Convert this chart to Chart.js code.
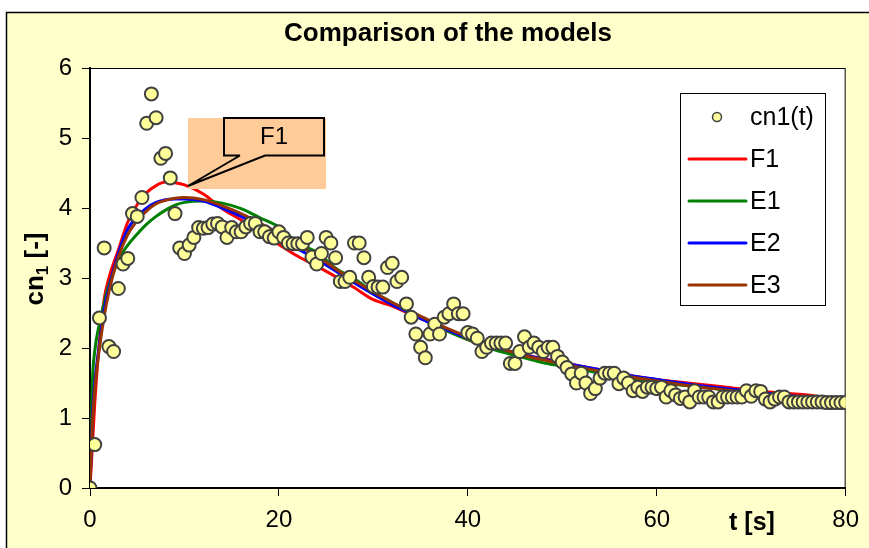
<!DOCTYPE html>
<html>
<head>
<meta charset="utf-8">
<script src="https://cdn.jsdelivr.net/npm/chart.js@4.4.0/dist/chart.umd.min.js"></script>
<style>
html, body { margin: 0; padding: 0; background: #fff; }
</style>
</head>
<body>
<canvas id="myChart" width="869" height="548"></canvas>
<script>
// measured points cn1(t)
var tData = [
  0, 0.5, 1, 1.5, 2, 2.5, 3, 3.5, 4, 4.5, 5, 5.5, 6, 6.5, 7, 7.5, 8, 8.5, 9, 9.5,
  10, 10.5, 11, 11.5, 12, 12.5, 13, 13.5, 14, 14.5, 15, 15.5, 16, 16.5, 17, 17.5, 18, 18.5, 19, 19.5,
  20, 20.5, 21, 21.5, 22, 22.5, 23, 23.5, 24, 24.5, 25, 25.5, 26, 26.5, 27, 27.5, 28, 28.5, 29, 29.5,
  30, 30.5, 31, 31.5, 32, 32.5, 33, 33.5, 34, 34.5, 35, 35.5, 36, 36.5, 37, 37.5, 38, 38.5, 39, 39.5,
  40, 40.5, 41, 41.5, 42, 42.5, 43, 43.5, 44, 44.5, 45, 45.5, 46, 46.5, 47, 47.5, 48, 48.5, 49, 49.5,
  50, 50.5, 51, 51.5, 52, 52.5, 53, 53.5, 54, 54.5, 55, 55.5, 56, 56.5, 57, 57.5, 58, 58.5, 59, 59.5,
  60, 60.5, 61, 61.5, 62, 62.5, 63, 63.5, 64, 64.5, 65, 65.5, 66, 66.5, 67, 67.5, 68, 68.5, 69, 69.5,
  70, 70.5, 71, 71.5, 72, 72.5, 73, 73.5, 74, 74.5, 75, 75.5, 76, 76.5, 77, 77.5, 78, 78.5, 79, 79.5,
  80
];
var cnData = [
  0, 0.62, 2.43, 3.43, 2.02, 1.95, 2.85, 3.2, 3.28, 3.92, 3.88, 4.15, 5.21, 5.63, 5.29, 4.71, 4.78, 4.43, 3.92, 3.43,
  3.35, 3.47, 3.58, 3.72, 3.71, 3.72, 3.77, 3.78, 3.73, 3.58, 3.72, 3.66, 3.66, 3.73, 3.78, 3.78, 3.66, 3.66, 3.59, 3.57,
  3.66, 3.58, 3.5, 3.49, 3.49, 3.49, 3.58, 3.3, 3.2, 3.35, 3.58, 3.5, 3.29, 2.95, 2.95, 3.01, 3.5, 3.5, 3.29, 3.01,
  2.88, 2.87, 2.87, 3.15, 3.21, 2.95, 3.01, 2.63, 2.44, 2.2, 2.01, 1.86, 2.2, 2.34, 2.2, 2.44, 2.49, 2.63, 2.49, 2.49,
  2.22, 2.2, 2.14, 1.95, 2.01, 2.07, 2.07, 2.07, 2.07, 1.78, 1.78, 1.95, 2.16, 2.01, 2.07, 2.01, 1.95, 2.01, 2.01, 1.88,
  1.8, 1.72, 1.63, 1.5, 1.64, 1.5, 1.35, 1.42, 1.57, 1.64, 1.64, 1.64, 1.49, 1.57, 1.5, 1.39, 1.44, 1.38, 1.44, 1.44,
  1.42, 1.44, 1.3, 1.39, 1.33, 1.28, 1.3, 1.23, 1.39, 1.3, 1.3, 1.3, 1.23, 1.23, 1.3, 1.3, 1.3, 1.3, 1.3, 1.39,
  1.31, 1.39, 1.38, 1.27, 1.23, 1.27, 1.3, 1.3, 1.23, 1.23, 1.23, 1.23, 1.23, 1.23, 1.23, 1.23, 1.22, 1.22, 1.22, 1.22,
  1.22
];

// model curves
var tModel = [0, 0.25, 0.5, 1, 1.5, 2, 3, 4, 5, 6, 7, 8, 9, 10, 12, 14, 16, 18, 20, 22, 24, 26, 28, 30,
  32, 34, 36, 38, 40, 42, 44, 46, 48, 50, 52, 54, 56, 58, 60, 62, 64, 66, 68, 70, 72, 74, 76, 78, 80];
var f1 = [0, 0.6, 1.2, 2.1, 2.7, 3.0, 3.4, 3.8, 4.05, 4.22, 4.32, 4.37, 4.36, 4.33, 4.2, 3.99, 3.83, 3.65, 3.48, 3.31, 3.17, 3.02, 2.86, 2.69,
  2.6, 2.48, 2.36, 2.25, 2.12, 2.04, 1.97, 1.9, 1.85, 1.8, 1.74, 1.69, 1.64, 1.59, 1.55, 1.52, 1.49, 1.46, 1.43, 1.4, 1.37, 1.35, 1.33, 1.29, 1.25];
var e1 = [0, 1.5, 1.95, 2.35, 2.65, 2.9, 3.25, 3.47, 3.63, 3.77, 3.88, 3.97, 4.04, 4.08, 4.1, 4.07, 3.99, 3.86, 3.73, 3.5, 3.37, 3.14, 2.99, 2.8,
  2.65, 2.5, 2.36, 2.23, 2.12, 2.01, 1.93, 1.86, 1.79, 1.74, 1.69, 1.64, 1.6, 1.55, 1.51, 1.48, 1.45, 1.42, 1.39, 1.36, 1.33, 1.31, 1.28, 1.25, 1.23];
var e2 = [0, 1.0, 1.5, 2.05, 2.55, 2.85, 3.35, 3.7, 3.88, 4.0, 4.08, 4.12, 4.13, 4.13, 4.1, 4.0, 3.88, 3.74, 3.6, 3.42, 3.27, 3.1, 2.93, 2.77,
  2.62, 2.49, 2.36, 2.25, 2.14, 2.05, 1.97, 1.9, 1.84, 1.79, 1.74, 1.69, 1.64, 1.59, 1.55, 1.51, 1.47, 1.44, 1.41, 1.38, 1.35, 1.32, 1.29, 1.26, 1.23];
var e3 = [0, 0.9, 1.4, 2.0, 2.45, 2.8, 3.3, 3.62, 3.82, 3.96, 4.06, 4.11, 4.14, 4.15, 4.12, 4.03, 3.92, 3.78, 3.64, 3.47, 3.32, 3.13, 2.96, 2.8,
  2.65, 2.52, 2.39, 2.27, 2.16, 2.06, 1.97, 1.89, 1.83, 1.77, 1.72, 1.67, 1.62, 1.57, 1.53, 1.49, 1.45, 1.42, 1.39, 1.36, 1.33, 1.3, 1.28, 1.25, 1.22];

var xTicks = [0, 20, 40, 60, 80];
var yTicks = [0, 1, 2, 3, 4, 5, 6];

var FONT = "'Liberation Sans', Arial, sans-serif";

function pts(xs, ys) {
  return xs.map(function (x, i) { return { x: x, y: ys[i] }; });
}

function modelSet(label, values, color, order) {
  return {
    label: label,
    data: pts(tModel, values),
    showLine: true,
    borderColor: color,
    backgroundColor: color,
    borderWidth: 3,
    pointRadius: 0,
    cubicInterpolationMode: 'monotone',
    order: order
  };
}

var legendItems = [
  { text: 'cn1(t)', type: 'point' },
  { text: 'F1', type: 'line', color: '#FF0000' },
  { text: 'E1', type: 'line', color: '#008000' },
  { text: 'E2', type: 'line', color: '#0000FF' },
  { text: 'E3', type: 'line', color: '#993300' }
];

var decor = {
  id: 'decor',
  beforeDraw: function (chart) {
    var ctx = chart.ctx, a = chart.chartArea;
    ctx.save();
    ctx.fillStyle = '#ffffff';
    ctx.fillRect(0, 0, chart.width, chart.height);
    ctx.fillStyle = '#FFFFCC';
    ctx.fillRect(6, 12, chart.width, chart.height);
    ctx.strokeStyle = '#000000';
    ctx.lineWidth = 1.5;
    ctx.beginPath();
    ctx.moveTo(6.5, chart.height);
    ctx.lineTo(6.5, 12.5);
    ctx.lineTo(chart.width, 12.5);
    ctx.stroke();
    ctx.fillStyle = '#ffffff';
    ctx.fillRect(a.left, a.top, a.right - a.left, a.bottom - a.top);
    ctx.strokeStyle = '#000000';
    ctx.lineWidth = 1;
    ctx.strokeRect(a.left + 0.5, a.top + 0.5, a.right - a.left - 1, a.bottom - a.top);
    ctx.restore();
  },
  afterDatasetsDraw: function (chart) {
    var ctx = chart.ctx;
    ctx.save();
    // callout
    ctx.fillStyle = '#FFCC99';
    ctx.fillRect(188, 118, 138, 71);
    ctx.strokeStyle = '#000000';
    ctx.lineWidth = 2;
    ctx.beginPath();
    ctx.moveTo(240, 155.5);
    ctx.lineTo(224, 155.5);
    ctx.lineTo(224, 118);
    ctx.lineTo(324, 118);
    ctx.lineTo(324, 155.5);
    ctx.lineTo(265, 155.5);
    ctx.lineTo(188, 186);
    ctx.lineTo(240, 155.5);
    ctx.stroke();
    ctx.fillStyle = '#000000';
    ctx.font = '24px ' + FONT;
    ctx.textAlign = 'center';
    ctx.textBaseline = 'middle';
    ctx.fillText('F1', 274, 137);

    // legend
    ctx.fillStyle = '#ffffff';
    ctx.fillRect(680, 93, 145, 212);
    ctx.strokeStyle = '#000000';
    ctx.lineWidth = 1;
    ctx.strokeRect(680.5, 93.5, 145, 212);
    legendItems.forEach(function (it, i) {
      var y = 117 + i * 42;
      if (it.type === 'point') {
        ctx.beginPath();
        ctx.arc(717, y, 4.5, 0, Math.PI * 2);
        ctx.fillStyle = '#FFFF99';
        ctx.fill();
        ctx.strokeStyle = '#404040';
        ctx.lineWidth = 1.5;
        ctx.stroke();
      } else {
        ctx.beginPath();
        ctx.moveTo(689, y);
        ctx.lineTo(746, y);
        ctx.strokeStyle = it.color;
        ctx.lineWidth = 3;
        ctx.lineCap = 'round';
        ctx.stroke();
      }
      ctx.fillStyle = '#000000';
      ctx.font = '25px ' + FONT;
      ctx.textAlign = 'left';
      ctx.textBaseline = 'middle';
      ctx.fillText(it.text, 750, y + 1);
    });
    ctx.restore();
  },
  afterDraw: function (chart) {
    var ctx = chart.ctx;
    ctx.save();
    ctx.fillStyle = '#000000';
    ctx.textBaseline = 'middle';
    ctx.textAlign = 'center';
    ctx.font = 'bold 26px ' + FONT;
    ctx.fillText('Comparison of the models', 448, 34);

    ctx.font = 'bold 25px ' + FONT;
    ctx.fillText('t [s]', 752, 523);

    // y title with subscript
    ctx.translate(36, 269);
    ctx.rotate(-Math.PI / 2);
    ctx.textAlign = 'left';
    ctx.font = 'bold 26px ' + FONT;
    var w1 = ctx.measureText('cn').width;
    ctx.font = 'bold 17px ' + FONT;
    var w2 = ctx.measureText('1').width;
    ctx.font = 'bold 26px ' + FONT;
    var w3 = ctx.measureText(' [-]').width;
    var x0 = -(w1 + w2 + w3) / 2;
    ctx.fillText('cn', x0, 0);
    ctx.font = 'bold 17px ' + FONT;
    ctx.fillText('1', x0 + w1, 7);
    ctx.font = 'bold 26px ' + FONT;
    ctx.fillText(' [-]', x0 + w1 + w2, 0);
    ctx.restore();
  }
};

var ctx = document.getElementById('myChart').getContext('2d');
var chart = new Chart(ctx, {
  type: 'scatter',
  data: {
    datasets: [
      {
        label: 'cn1(t)',
        data: pts(tData, cnData),
        pointRadius: 6.5,
        pointBackgroundColor: '#FFFF99',
        pointBorderColor: '#404040',
        pointBorderWidth: 2,
        showLine: false,
        order: 0
      },
      modelSet('F1', f1, '#FF0000', 4),
      modelSet('E1', e1, '#008000', 3),
      modelSet('E2', e2, '#0000FF', 2),
      modelSet('E3', e3, '#993300', 1)
    ]
  },
  options: {
    responsive: false,
    animation: false,
    layout: { padding: { top: 68, right: 19, left: 0, bottom: 0 } },
    plugins: {
      legend: { display: false },
      title: { display: false },
      tooltip: { enabled: false }
    },
    scales: {
      x: {
        type: 'linear',
        min: 0,
        max: 80,
        afterFit: function (s) { s.height = 60; },
        afterBuildTicks: function (s) { s.ticks = xTicks.map(function (v) { return { value: v }; }); },
        grid: { drawOnChartArea: false, drawTicks: true, tickLength: 8, color: '#000000' },
        border: { display: true, color: '#000000', width: 2 },
        ticks: { color: '#000000', font: { family: FONT, size: 24 }, padding: 10, maxRotation: 0 }
      },
      y: {
        type: 'linear',
        min: 0,
        max: 6,
        afterFit: function (s) { s.width = 90; },
        afterBuildTicks: function (s) { s.ticks = yTicks.map(function (v) { return { value: v }; }); },
        grid: { drawOnChartArea: false, drawTicks: true, tickLength: 8, color: '#000000' },
        border: { display: true, color: '#000000', width: 2 },
        ticks: { color: '#000000', font: { family: FONT, size: 24 }, padding: 10 }
      }
    }
  },
  plugins: [decor]
});
</script>
</body>
</html>
